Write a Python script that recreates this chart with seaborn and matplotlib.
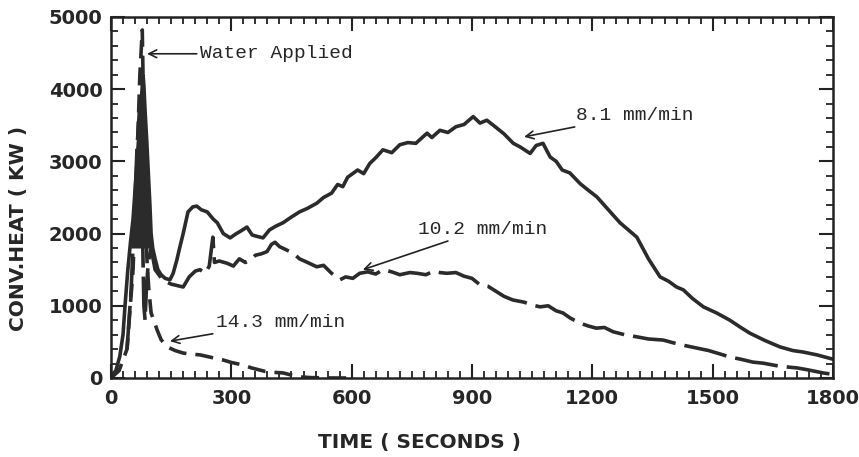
import numpy as np
import pandas as pd
import matplotlib
matplotlib.use('Agg')
import matplotlib.pyplot as plt
from matplotlib.ticker import MultipleLocator
import seaborn as sns

# 8.1 mm/min (solid)
t_81 = [0, 12, 22, 30, 35, 42, 49, 55, 80, 82, 85, 89, 93, 97, 100, 104,
        110, 117, 125, 135, 147, 155, 164, 172, 180, 192, 204, 214, 225, 240, 255, 265, 280,
        297, 310, 325, 339, 352, 365, 379, 395, 410, 429, 450, 470, 490, 513, 530, 550, 565,
        578, 590, 600, 615, 630, 645, 660, 678, 700, 720, 740, 760, 788, 800, 820, 840, 860,
        880, 903, 920, 937, 960, 980, 1003, 1020, 1045, 1060, 1077, 1095, 1110, 1125, 1144,
        1170, 1190, 1211, 1240, 1269, 1290, 1311, 1340, 1369, 1390, 1410, 1427, 1450, 1477,
        1510, 1543, 1570, 1593, 1630, 1668, 1700, 1725, 1760, 1800]
q_81 = [30, 100, 300, 600, 1000, 1500, 1900, 2200, 4200, 4050, 3700,
        3300, 2850, 2400, 2000, 1800, 1650, 1500, 1430, 1380, 1360, 1450, 1630, 1820, 2000,
        2300, 2370, 2380, 2330, 2300, 2200, 2150, 2000, 1940, 1990, 2040, 2090, 1980, 1960,
        1940, 2050, 2100, 2150, 2230, 2300, 2350, 2420, 2500, 2560, 2680, 2650, 2780, 2820,
        2880, 2830, 2970, 3050, 3160, 3120, 3230, 3260, 3250, 3390, 3330, 3430, 3400, 3480,
        3510, 3620, 3530, 3570, 3470, 3380, 3250, 3200, 3110, 3220, 3250, 3060, 3000, 2880,
        2840, 2690, 2600, 2510, 2330, 2150, 2050, 1950, 1650, 1400, 1340, 1260, 1220, 1100,
        985, 900, 800, 700, 620, 520, 430, 380, 360, 320, 260]

# dense black region at the water-application peak (all curves overlap)
peak_q = [1800, 2200, 2600, 3000, 3400, 3800, 4200]
peak_left_t = [49, 55, 60, 65, 70, 75, 80]
peak_right_t = [100, 98, 95, 92, 88, 85, 81]

# 10.2 mm/min (long dashes)
t_102 = [40, 50, 58, 65, 72, 76, 78, 80, 82, 85, 88, 93, 100, 110, 130, 150, 165, 180, 195,
         210, 222, 235, 245, 254, 258, 270, 289, 305, 320, 335, 347, 360, 375, 389, 400, 409,
         420, 435, 454, 470, 490, 513, 530, 550, 571, 585, 603, 620, 640, 660, 678, 700, 720,
         745, 763, 785, 805, 820, 837, 860, 880, 900, 920, 940, 960, 980, 1002, 1030, 1050,
         1070, 1090, 1110, 1127, 1145, 1169, 1190, 1210, 1230, 1252, 1280, 1311, 1340, 1377,
         1400, 1430, 1460, 1490, 1520, 1543, 1570, 1600, 1626, 1660, 1690, 1710, 1740, 1775,
         1800]
q_102 = [400, 1200, 2200, 3200, 3800, 3000, 2200, 1600, 1000, 800, 1200, 1600, 1800, 1500,
         1350, 1300, 1280, 1260, 1400, 1480, 1500, 1450, 1550, 1950, 1600, 1620, 1590, 1550,
         1650, 1600, 1630, 1700, 1720, 1750, 1850, 1880, 1820, 1780, 1730, 1650, 1600, 1540,
         1560, 1450, 1360, 1400, 1380, 1450, 1470, 1440, 1500, 1470, 1430, 1460, 1450, 1430,
         1480, 1460, 1450, 1460, 1410, 1380, 1290, 1270, 1200, 1130, 1080, 1050, 1010, 985,
         1000, 930, 900, 830, 760, 720, 690, 700, 640, 600, 570, 540, 525, 490, 450, 415, 380,
         330, 290, 260, 220, 205, 170, 150, 140, 110, 70, 50]

# 14.3 mm/min (short dashes)
t_143 = [0, 20, 40, 55, 65, 72, 78, 82, 86, 90, 94, 100, 108, 115, 125, 140, 160, 180, 200,
         222, 250, 279, 300, 329, 350, 371, 385, 400, 429, 450, 471, 500, 550, 600]
q_143 = [0, 100, 400, 1500, 3000, 4200, 4820, 3500, 2200, 1600, 1250, 900, 780, 665, 530,
         430, 380, 345, 330, 320, 285, 250, 215, 180, 140, 110, 90, 80, 70, 40, 15, 5, 0, 0]

x_ticks = [0, 300, 600, 900, 1200, 1500, 1800]
y_ticks = [0, 1000, 2000, 3000, 4000, 5000]

sns.set_style('ticks')
plt.rcParams['font.family'] = ['DejaVu Sans']

fig = plt.figure(figsize=(8.59, 4.57), dpi=100)
ax = fig.add_axes([0.1292, 0.1729, 0.8405, 0.79])

ink = '#2b2b2b'
ax.fill_betweenx(peak_q, peak_left_t, peak_right_t, color=ink, lw=0)
sns.lineplot(data=pd.DataFrame({'t': t_81, 'q': q_81}), x='t', y='q', ax=ax,
             color=ink, lw=2.6, sort=False, estimator=None)
sns.lineplot(data=pd.DataFrame({'t': t_102, 'q': q_102}), x='t', y='q', ax=ax,
             color=ink, lw=2.6, linestyle=(0, (12, 2.5)), sort=False, estimator=None)
sns.lineplot(data=pd.DataFrame({'t': t_143, 'q': q_143}), x='t', y='q', ax=ax,
             color=ink, lw=2.6, linestyle=(0, (5, 2.5)), sort=False, estimator=None)

ax.set_xlim(0, 1800)
ax.set_ylim(0, 5000)
ax.set_xticks(x_ticks)
ax.set_yticks(y_ticks)
ax.xaxis.set_minor_locator(MultipleLocator(30))
ax.yaxis.set_minor_locator(MultipleLocator(200))
ax.tick_params(which='major', direction='in', top=True, right=True, length=10, width=1.5,
               color='#222222')
ax.tick_params(axis='x', which='major', pad=8)
ax.tick_params(axis='y', which='major', pad=6)
ax.tick_params(which='minor', direction='in', top=True, right=True, length=5, width=1.3,
               color='#222222')
for lab in ax.get_xticklabels() + ax.get_yticklabels():
    lab.set_fontweight('bold')
    lab.set_fontsize(14)
for sp in ax.spines.values():
    sp.set_linewidth(1.8)
    sp.set_color('#222222')

ax.set_xlabel('TIME ( SECONDS )', fontsize=14.5, fontweight='bold')
ax.set_ylabel('CONV.HEAT ( KW )', fontsize=14.5, fontweight='bold')
ax.xaxis.set_label_coords(0.428, -0.152)
ax.yaxis.set_label_coords(-0.115, 0.415)

mono = 'Liberation Mono'
arr = dict(arrowstyle='->', lw=1.2, color='#222222', shrinkA=0, shrinkB=0)
ax.annotate('Water Applied', xy=(90, 4490), xytext=(222, 4490), fontsize=14,
            family=mono, va='center', arrowprops=arr)
ax.annotate('8.1 mm/min', xy=(1030, 3340), xytext=(1160, 3640), fontsize=14,
            family=mono, va='center', arrowprops=arr)
ax.annotate('10.2 mm/min', xy=(628, 1500), xytext=(766, 2060), fontsize=14,
            family=mono, va='center', arrowprops=arr)
ax.annotate('14.3 mm/min', xy=(147, 510), xytext=(262, 775), fontsize=14,
            family=mono, va='center', arrowprops=arr)

fig.savefig('out.png', dpi=100)
